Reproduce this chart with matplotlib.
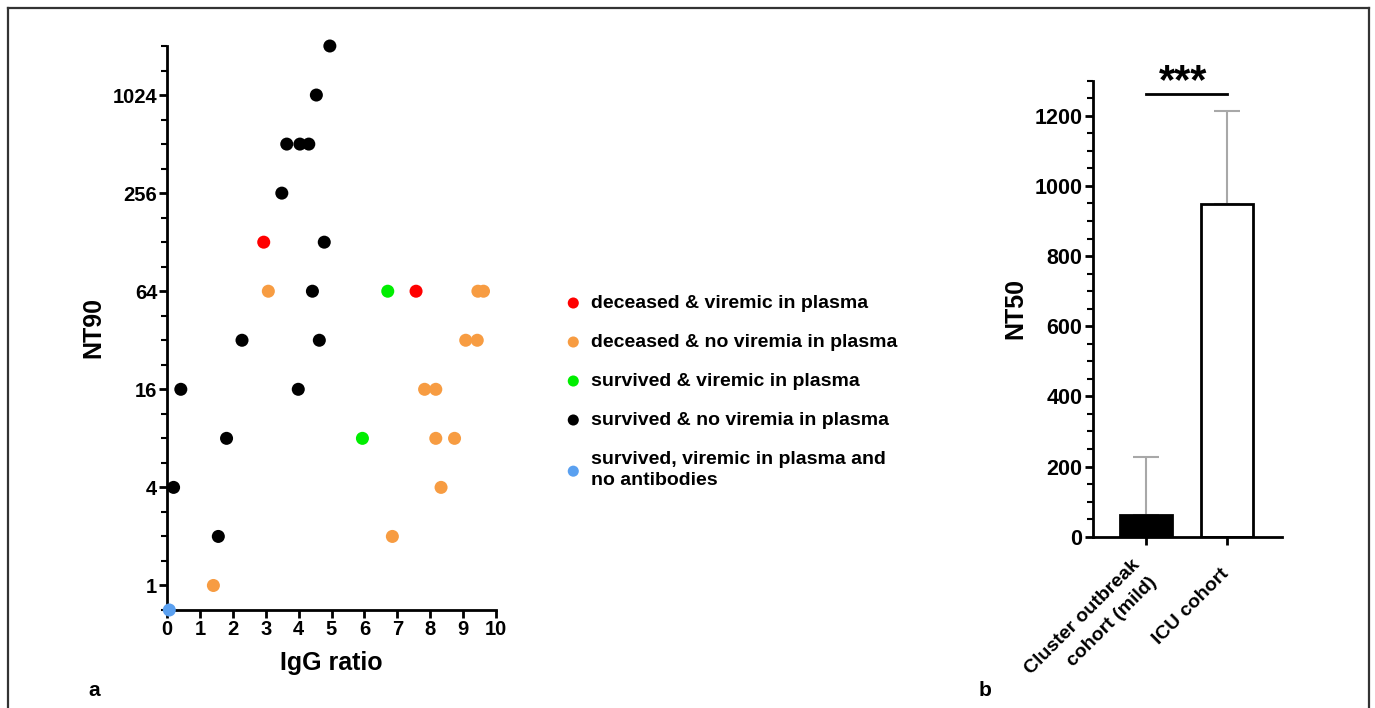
import numpy as np
import matplotlib
matplotlib.use("Agg")
import matplotlib.pyplot as plt
from matplotlib.lines import Line2D
from matplotlib.ticker import NullFormatter

plt.rcParams['font.family'] = ['Liberation Sans', 'DejaVu Sans']
plt.rcParams['font.weight'] = 'bold'

# panel a: IgG ratio vs NT90, grouped by outcome
groups = ["deceased & viremic in plasma",
          "deceased & no viremia in plasma",
          "survived & viremic in plasma",
          "survived & no viremia in plasma",
          "survived, viremic in plasma and\nno antibodies"]
colors = ["#ff0000", "#f79c42", "#00ee00", "#000000", "#5aa0f0"]

red_x = [2.94, 7.57]
red_y = [128, 64]
orange_x = [3.08, 9.45, 9.62, 9.08, 9.43, 7.83, 8.17, 8.17, 8.74, 8.33, 6.85, 1.41]
orange_y = [64, 64, 64, 32, 32, 16, 16, 8, 8, 4, 2, 1]
green_x = [6.71, 5.94]
green_y = [64, 8]
black_x = [4.95, 4.54, 3.64, 4.04, 4.31, 3.49, 4.78, 4.42, 2.28, 4.63, 0.42, 3.99, 1.81, 0.20, 1.56]
black_y = [2048, 1024, 512, 512, 512, 256, 128, 64, 32, 32, 16, 16, 8, 4, 2]
blue_x = [0.07]
blue_y = [2 ** -0.5]  # no antibodies, drawn on the axis floor

nt90_ticks = [1, 4, 16, 64, 256, 1024]
igg_ticks = list(range(0, 11))

# panel b: mean NT50 per cohort with SD
cohorts = ["Cluster outbreak\ncohort (mild)", "ICU cohort"]
nt50_mean = [62, 948]
nt50_sd = [165, 266]
sig_level = 1263

fig = plt.figure(figsize=(13.75, 7.08), dpi=100)

# outer frame
frame_kw = dict(color="#333333", lw=1.6, transform=fig.transFigure)
fig.add_artist(Line2D([8/1375, 1369/1375], [1-8/708, 1-8/708], **frame_kw))
fig.add_artist(Line2D([8/1375, 8/1375], [1-8/708, 0], **frame_kw))
fig.add_artist(Line2D([1369/1375, 1369/1375], [1-8/708, 0], **frame_kw))

ax = fig.add_axes([167/1375, 1-610/708, 329/1375, 564/708])
sets = [(red_x, red_y), (orange_x, orange_y), (green_x, green_y),
        (black_x, black_y), (blue_x, blue_y)]
handles = []
for (xs, ys), c, lab in zip(sets, colors, groups):
    h = ax.scatter(xs, ys, s=88, color=c, edgecolors='none', label=lab,
                   clip_on=False, zorder=3)
    handles.append(h)

ax.set_yscale('log', base=2)
ax.set_ylim(2 ** -0.5, 2048)
ax.set_xlim(0, 10)
ax.set_yticks(nt90_ticks)
ax.set_yticklabels([str(t) for t in nt90_ticks])
ax.set_yticks([2 ** (k / 2) for k in range(-1, 23)], minor=True)
ax.yaxis.set_minor_formatter(NullFormatter())
ax.set_xticks(igg_ticks)
ax.tick_params(axis='both', which='major', labelsize=14.5, width=2, length=6, pad=1)
ax.tick_params(axis='y', which='minor', width=1.5, length=4)
ax.tick_params(axis='x', which='minor', length=0)
for sp in ['top', 'right']:
    ax.spines[sp].set_visible(False)
for sp in ['left', 'bottom']:
    ax.spines[sp].set_linewidth(2)
ax.set_xlabel("IgG ratio", fontsize=18, fontweight='bold', labelpad=9)
ax.set_ylabel("NT90", fontsize=18, fontweight='bold', labelpad=5)

leg = fig.legend(handles=handles, labels=groups, loc='upper left',
                 bbox_to_anchor=(548/1375, 1-277/708), frameon=False,
                 fontsize=14, markerscale=0.85, labelspacing=1.1,
                 handletextpad=0.5, handlelength=0.8)
leg.get_texts()[-1].set_linespacing(1.35)

# panel b
ax2 = fig.add_axes([1092.7/1375, 1-536.7/708, 189/1375, 456/708])
pos = np.arange(len(cohorts))
ax2.bar(pos, nt50_mean, width=0.64, color=['black', 'white'],
        edgecolor='black', linewidth=2, zorder=2)
ax2.errorbar(pos, nt50_mean, yerr=[np.zeros(len(pos)), nt50_sd], fmt='none',
             ecolor='#a8a8a8', elinewidth=1.5, capsize=9.5, capthick=1.5, zorder=1)
ax2.set_xlim(-0.654, 1.679)
ax2.set_ylim(0, 1300)
ax2.set_yticks(range(0, 1201, 200))
ax2.set_yticks(range(0, 1301, 50), minor=True)
ax2.set_xticks(pos)
ax2.set_xticklabels(cohorts, rotation=45, ha='right', va='center',
                    rotation_mode='anchor', fontsize=14, linespacing=1.6)
ax2.tick_params(axis='y', which='major', labelsize=15.5, width=2, length=6, pad=1.5)
ax2.tick_params(axis='x', which='major', width=2, length=6, pad=19)
ax2.tick_params(axis='y', which='minor', width=1.5, length=4)
for sp in ['top', 'right']:
    ax2.spines[sp].set_visible(False)
for sp in ['left', 'bottom']:
    ax2.spines[sp].set_linewidth(2)
ax2.set_ylabel("NT50", fontsize=18, fontweight='bold', labelpad=5)

ax2.plot([pos[0], pos[1]], [sig_level, sig_level], color='black', lw=2, clip_on=False)
ax2.text(0.46, sig_level - 25, "***", ha='center', va='bottom', fontsize=30,
         fontweight='bold')

fig.text(94/1375, 1-690/708, "a", fontsize=15, fontweight='bold', ha='center', va='center')
fig.text(985/1375, 1-690/708, "b", fontsize=15, fontweight='bold', ha='center', va='center')

fig.savefig("out.png", dpi=100)
